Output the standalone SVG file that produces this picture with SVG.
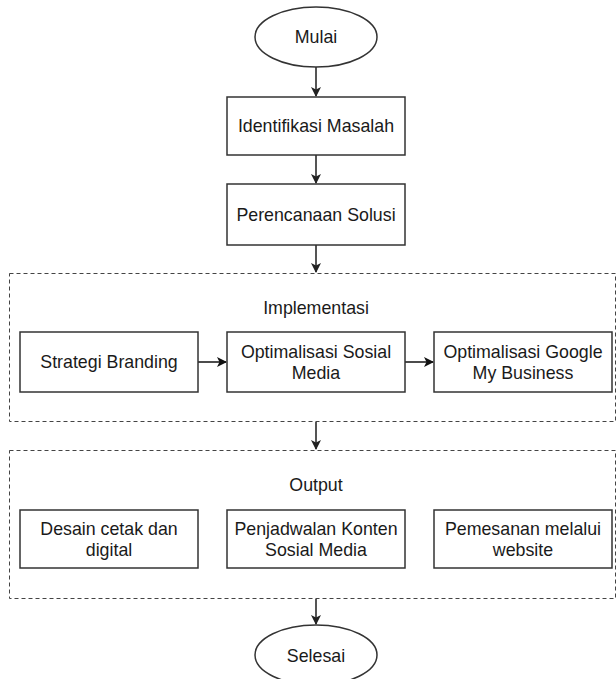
<svg xmlns="http://www.w3.org/2000/svg" width="616" height="679" viewBox="0 0 616 679">
<style>
text{font-family:"Liberation Sans",Arial,sans-serif;font-size:17.8px;fill:#1a1a1a;text-anchor:middle}
.box{fill:#fff;stroke:#333;stroke-width:1.5}
.grp{fill:none;stroke:#444;stroke-width:1;stroke-dasharray:4 3}
.v{stroke:#555;stroke-width:2;fill:none}
.h{stroke:#111;stroke-width:1.5;fill:none}
</style>
<defs>
<marker id="ag" markerWidth="12" markerHeight="12" refX="9" refY="5" orient="auto" markerUnits="userSpaceOnUse"><path d="M0,0 L10,5 L0,10 L2.5,5 Z" fill="#222"/></marker>
<marker id="ab" markerWidth="12" markerHeight="12" refX="9" refY="5" orient="auto" markerUnits="userSpaceOnUse"><path d="M0,0 L10,5 L0,10 L2.5,5 Z" fill="#111"/></marker>
</defs>
<rect width="616" height="679" fill="#fff"/>
<g id="grp-implementasi"><rect class="grp" x="9.5" y="273.5" width="606" height="148"/><text x="316" y="314">Implementasi</text></g>
<g id="grp-output"><rect class="grp" x="9.5" y="450.5" width="606" height="148"/><text x="316" y="491">Output</text></g>
<g id="connectors">
<line class="v" x1="316" y1="67" x2="316" y2="96" marker-end="url(#ag)"/>
<line class="v" x1="316" y1="155" x2="316" y2="183" marker-end="url(#ag)"/>
<line class="v" x1="316" y1="245" x2="316" y2="272" marker-end="url(#ag)"/>
<line class="v" x1="316" y1="422" x2="316" y2="449" marker-end="url(#ag)"/>
<line class="v" x1="316" y1="599" x2="316" y2="624" marker-end="url(#ag)"/>
<line class="h" x1="198" y1="362" x2="226" y2="362" marker-end="url(#ab)"/>
<line class="h" x1="405" y1="362" x2="433" y2="362" marker-end="url(#ab)"/>
</g>
<g id="mulai"><ellipse class="box" cx="316" cy="37" rx="61" ry="30"/><text x="316" y="43">Mulai</text></g>
<g id="identifikasi"><rect class="box" x="227" y="97" width="178" height="58"/><text x="316" y="132">Identifikasi Masalah</text></g>
<g id="perencanaan"><rect class="box" x="227" y="184" width="178" height="61"/><text x="316" y="220.5">Perencanaan Solusi</text></g>
<g id="strategi"><rect class="box" x="20" y="332" width="178" height="60"/><text x="109" y="368">Strategi Branding</text></g>
<g id="sosial"><rect class="box" x="227" y="332" width="178" height="60"/><text x="316" y="358">Optimalisasi Sosial</text><text x="316" y="379">Media</text></g>
<g id="google"><rect class="box" x="434" y="332" width="178" height="60"/><text x="523" y="358">Optimalisasi Google</text><text x="523" y="379">My Business</text></g>
<g id="desain"><rect class="box" x="20" y="510" width="178" height="58"/><text x="109" y="535">Desain cetak dan</text><text x="109" y="556">digital</text></g>
<g id="penjadwalan"><rect class="box" x="227" y="510" width="178" height="58"/><text x="316" y="535">Penjadwalan Konten</text><text x="316" y="556">Sosial Media</text></g>
<g id="pemesanan"><rect class="box" x="434" y="510" width="178" height="58"/><text x="523" y="535">Pemesanan melalui</text><text x="523" y="556">website</text></g>
<g id="selesai"><ellipse class="box" cx="316" cy="655" rx="61" ry="30"/><text x="316" y="662">Selesai</text></g>
</svg>
